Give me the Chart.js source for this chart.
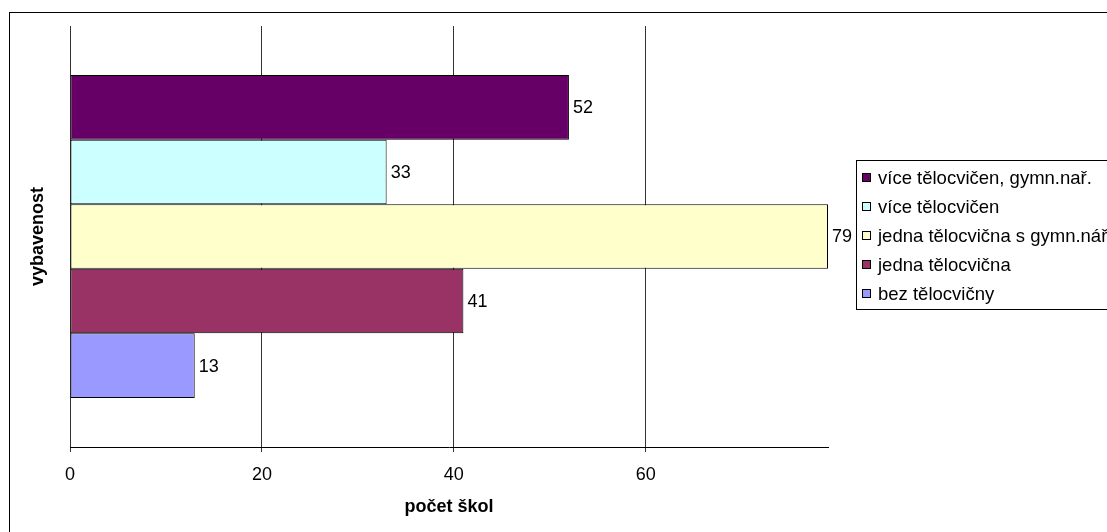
<!DOCTYPE html>
<html>
<head>
<meta charset="utf-8">
<script src="https://cdn.jsdelivr.net/npm/chart.js@4.4.1/dist/chart.umd.min.js"></script>
<style>
  html, body { margin: 0; padding: 0; background: #fff; }
  #wrap { width: 1107px; height: 532px; position: relative; overflow: hidden; }
  canvas { display: block; }
</style>
</head>
<body>
<div id="wrap"><canvas id="c" width="1107" height="532"></canvas></div>
<script>
// ---- data ----
const categories = ['vybavenost'];
const seriesNames = [
  'více tělocvičen, gymn.nař.',
  'více tělocvičen',
  'jedna tělocvična s gymn.nář',
  'jedna tělocvična',
  'bez tělocvičny'
];
const seriesValues = [52, 33, 79, 41, 13];
const xTickValues = [0, 20, 40, 60];
const xAxisMax = 79;
const xAxisTitle = 'počet škol';
const yAxisTitle = 'vybavenost';

// ---- styles ----
const palette = ['#660066', '#CCFFFF', '#FFFFCC', '#993366', '#9999FF'];
const FONT = "'Liberation Sans', Arial, sans-serif";

const datasets = seriesNames.map((name, i) => ({
  label: name,
  data: [seriesValues[i]],
  backgroundColor: palette[i],
  borderColor: '#000',
  borderWidth: 1,
  borderSkipped: false,
  categoryPercentage: 0.767,
  barPercentage: 1.0
}));

const decor = {
  id: 'decor',
  beforeDraw(chart) {
    const ctx = chart.ctx;
    ctx.save();
    ctx.fillStyle = '#fff';
    ctx.fillRect(0, 0, chart.width, chart.height);
    ctx.strokeStyle = '#000';
    ctx.lineWidth = 1;
    ctx.strokeRect(9.5, 12.5, 1300, 700);
    ctx.restore();
  },
  afterDatasetsDraw(chart) {
    const ctx = chart.ctx;
    ctx.save();
    ctx.font = '18px ' + FONT;
    ctx.fillStyle = '#000';
    ctx.textBaseline = 'middle';
    ctx.textAlign = 'left';
    chart.data.datasets.forEach((ds, i) => {
      const el = chart.getDatasetMeta(i).data[0];
      ctx.fillText(String(ds.data[0]), el.x + 4, el.y + 1);
    });
    ctx.restore();
  },
  afterDraw(chart) {
    const ctx = chart.ctx;
    const area = chart.chartArea;
    ctx.save();
    // axis titles
    ctx.fillStyle = '#000';
    ctx.font = 'bold 18px ' + FONT;
    ctx.textAlign = 'center';
    ctx.textBaseline = 'middle';
    ctx.fillText(xAxisTitle, (area.left + area.right) / 2, 507);
    ctx.save();
    ctx.translate(38, (area.top + area.bottom) / 2);
    ctx.rotate(-Math.PI / 2);
    ctx.fillText(yAxisTitle, 0, 0);
    ctx.restore();
    // legend
    const lx = 856.5, ly = 160.5, lh = 149;
    ctx.fillStyle = '#fff';
    ctx.fillRect(lx, ly, 400, lh);
    ctx.strokeStyle = '#000';
    ctx.lineWidth = 1;
    ctx.strokeRect(lx, ly, 400, lh);
    ctx.font = '18.5px ' + FONT;
    ctx.textAlign = 'left';
    ctx.textBaseline = 'middle';
    chart.data.datasets.forEach((ds, i) => {
      const cy = 178 + i * 29;
      ctx.fillStyle = ds.backgroundColor;
      ctx.fillRect(862.5, cy - 4.5, 8, 8);
      ctx.strokeStyle = '#000';
      ctx.strokeRect(862.5, cy - 4.5, 8, 8);
      ctx.fillStyle = '#000';
      ctx.fillText(ds.label, 878, cy + 1);
    });
    ctx.restore();
  }
};

new Chart(document.getElementById('c'), {
  type: 'bar',
  data: { labels: categories, datasets },
  options: {
    indexAxis: 'y',
    responsive: false,
    animation: false,
    devicePixelRatio: 1,
    layout: { padding: { left: 70, right: 279, top: 26, bottom: 0 } },
    plugins: { legend: { display: false }, tooltip: { enabled: false }, title: { display: false } },
    scales: {
      x: {
        type: 'linear',
        min: 0,
        max: xAxisMax,
        afterBuildTicks(scale) { scale.ticks = xTickValues.map(v => ({ value: v })); },
        afterFit(scale) { scale.height = 85; },
        ticks: { font: { size: 18, family: FONT }, color: '#000', padding: 12 },
        grid: { color: '#333', lineWidth: 1, tickLength: 5, tickColor: '#333' },
        border: { display: true, color: '#000', width: 1 }
      },
      y: { display: false }
    }
  },
  plugins: [decor]
});
</script>
</body>
</html>
